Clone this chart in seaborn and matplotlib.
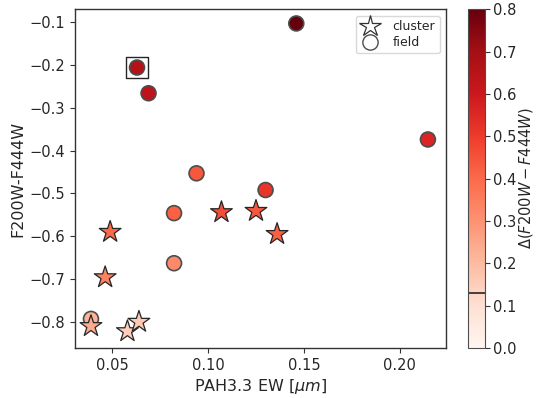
import numpy as np
import pandas as pd
import matplotlib
matplotlib.use("Agg")
import matplotlib.pyplot as plt
import seaborn as sns
from matplotlib.lines import Line2D

# Field galaxies (circles)
field_ew = [0.146, 0.063, 0.069, 0.2146, 0.094, 0.130, 0.0823, 0.0823, 0.039]
field_col = [-0.103, -0.206, -0.266, -0.374, -0.453, -0.492, -0.546, -0.663, -0.793]
field_delta = [0.80, 0.66, 0.64, 0.56, 0.44, 0.52, 0.42, 0.32, 0.22]

# Cluster galaxies (stars)
cluster_ew = [0.107, 0.125, 0.136, 0.049, 0.0464, 0.039, 0.058, 0.064]
cluster_col = [-0.544, -0.541, -0.595, -0.590, -0.696, -0.810, -0.822, -0.800]
cluster_delta = [0.46, 0.44, 0.42, 0.40, 0.34, 0.24, 0.15, 0.16]

# Highlighted source
box_ew = [0.063]
box_col = [-0.206]

cbar_line = 0.13

sns.set_style("white")
plt.rcParams["font.family"] = ["DejaVu Sans"]

fig = plt.figure(figsize=(5.36, 3.98), dpi=100)
ax = fig.add_axes([0.140, 0.1256, 0.692, 0.851])
cax = fig.add_axes([0.873, 0.1256, 0.032, 0.851])

cmap = plt.get_cmap("Reds")
norm = matplotlib.colors.Normalize(0, 0.8)

df_f = pd.DataFrame({"ew": field_ew, "col": field_col, "d": field_delta})
df_c = pd.DataFrame({"ew": cluster_ew, "col": cluster_col, "d": cluster_delta})

sns.scatterplot(data=df_f, x="ew", y="col", hue="d", palette="Reds", hue_norm=norm,
                marker="o", s=115, edgecolor="0.3", linewidth=1.2, legend=False, ax=ax, zorder=3)
sns.scatterplot(data=df_c, x="ew", y="col", hue="d", palette="Reds", hue_norm=norm,
                marker="*", s=270, edgecolor="0.15", linewidth=0.9, legend=False, ax=ax, zorder=4)
ax.scatter(box_ew, box_col, marker="s", s=235, facecolor="none", edgecolor="0.15",
           linewidth=1.0, zorder=2)

ax.set_xlim(0.0307, 0.224)
ax.set_ylim(-0.861, -0.070)
ax.set_xticks([0.05, 0.10, 0.15, 0.20])
ax.set_xticklabels(["0.05", "0.10", "0.15", "0.20"])
ax.set_yticks([-0.8, -0.7, -0.6, -0.5, -0.4, -0.3, -0.2, -0.1])
ax.set_yticklabels(["\u22120.8", "\u22120.7", "\u22120.6", "\u22120.5", "\u22120.4", "\u22120.3", "\u22120.2", "\u22120.1"])
ax.tick_params(axis="both", labelsize=10.5, length=3.5, direction="out", left=True, bottom=True, color="0.2")
ax.set_xlabel(r"PAH3.3 EW [$\mu m$]", fontsize=11.5, labelpad=3)
ax.set_ylabel("F200W-F444W", fontsize=11.5, labelpad=3)
for sp in ax.spines.values():
    sp.set_color("0.2")
    sp.set_linewidth(1.0)

handles = [
    Line2D([], [], marker="*", linestyle="none", markersize=16, markerfacecolor="white",
           markeredgecolor="0.2", markeredgewidth=0.9, label="cluster"),
    Line2D([], [], marker="o", linestyle="none", markersize=11, markerfacecolor="white",
           markeredgecolor="0.3", markeredgewidth=1.0, label="field"),
]
ax.legend(handles=handles, loc="upper right", fontsize=9, frameon=True, handletextpad=1.0,
          borderpad=0.35, labelspacing=0.25, handlelength=1.6, framealpha=1, edgecolor="0.85",
          borderaxespad=0.5)

sm = matplotlib.cm.ScalarMappable(norm=norm, cmap=cmap)
cb = fig.colorbar(sm, cax=cax)
cb.set_ticks([0.0, 0.1, 0.2, 0.3, 0.4, 0.5, 0.6, 0.7, 0.8])
cb.ax.tick_params(labelsize=10.5, length=3.5, pad=2.5, color="0.2")
cb.set_label(r"$\Delta(F200W - F444W)$", fontsize=10.5, labelpad=0)
cb.ax.axhline(cbar_line, color="0.15", linewidth=1.2)
cb.outline.set_edgecolor("0.3")

fig.savefig("out.png", dpi=100)
